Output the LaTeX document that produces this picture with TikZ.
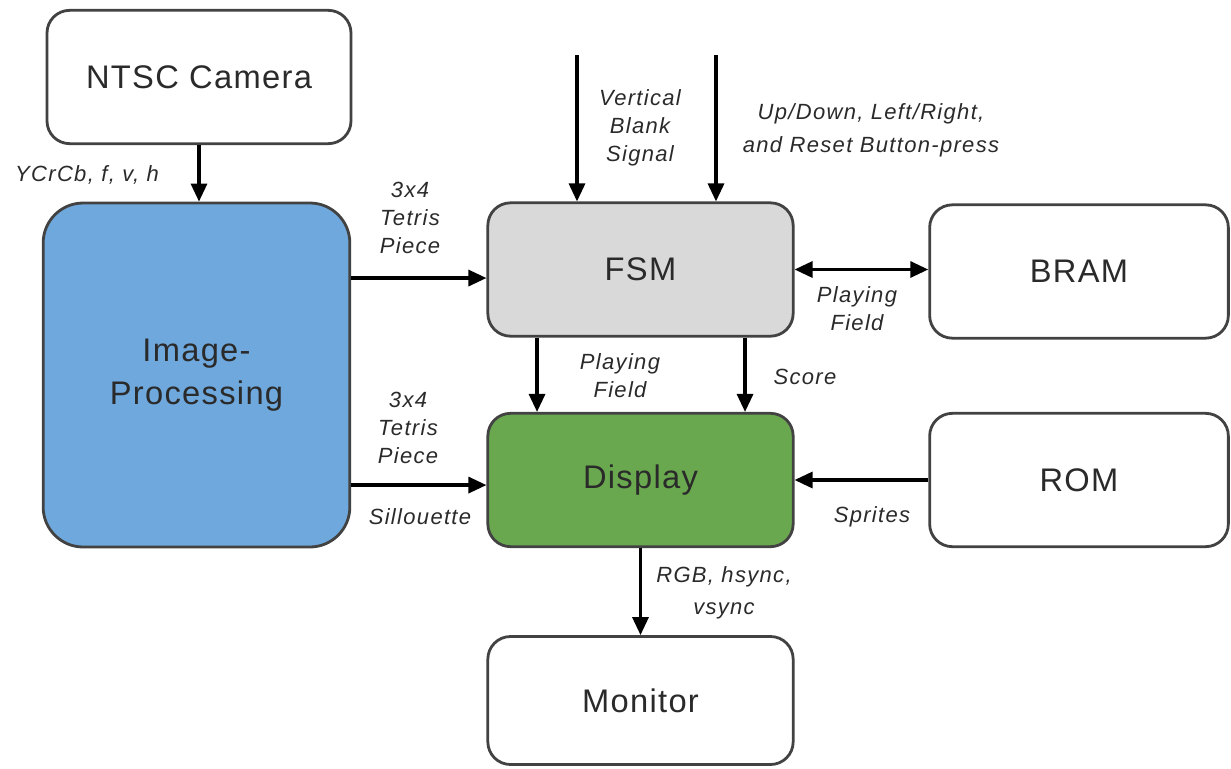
\documentclass[tikz,border=0pt]{standalone}
\usepackage{fontspec}
\setmainfont{Liberation Sans}[LetterSpace=4]
\newfontfamily\labelfont{Liberation Sans}[LetterSpace=6]
\usetikzlibrary{arrows.meta}
\definecolor{edge}{HTML}{424242}
\definecolor{ipblue}{HTML}{6FA8DC}
\definecolor{fsmgrey}{HTML}{D9D9D9}
\definecolor{dispgreen}{HTML}{6AA84F}
\definecolor{ink}{HTML}{2A2A2A}
\begin{document}
\begin{tikzpicture}[x=0.75pt,y=-0.75pt,
  block/.style={draw=edge, line width=2.1pt, rounded corners=17pt, fill=white,
    text=ink, font=\fontsize{24.5}{29}\selectfont, inner sep=0pt},
  arr/.style={draw=black, line width=2.4pt, -{Triangle[length=13.5pt,width=12pt]}},
  biarr/.style={draw=black, line width=2.4pt, {Triangle[length=13.5pt,width=12pt]}-{Triangle[length=13.5pt,width=12pt]}},
  lab/.style={text=ink, font=\labelfont\fontsize{16.5}{20.8}\selectfont\itshape, align=center, inner sep=0pt}]
\useasboundingbox (0,0) rectangle (1231,768);

% blocks
\node[block, minimum width=228pt, minimum height=100pt] (cam) at (199,77) {NTSC Camera};
\node[block, fill=ipblue, rounded corners=30pt, minimum width=230pt, minimum height=258pt, align=center] (ip) at (196.5,375) {Image-\\[3pt]Processing};
\node[block, fill=fsmgrey, minimum width=229pt, minimum height=100pt] (fsm) at (640.5,269.5) {FSM};
\node[block, minimum width=224pt, minimum height=100pt] (bram) at (1079,271.5) {BRAM};
\node[block, fill=dispgreen, minimum width=229pt, minimum height=100pt] (disp) at (640.5,480) {Display};
\node[block, minimum width=224pt, minimum height=100pt] (rom) at (1079,480) {ROM};
\node[block, minimum width=229pt, minimum height=96pt] (mon) at (640.5,700.5) {Monitor};

% external inputs of the FSM
\coordinate (vb) at (577,55);
\coordinate (btn) at (716,55);

% connectors
\draw[arr] (cam.south) -- (cam.south |- ip.north);
\draw[arr] ([yshift=-6.4pt]fsm.west -| ip.east) -- ([yshift=-6.4pt]fsm.west);
\draw[arr] ([yshift=-3.8pt]disp.west -| ip.east) -- ([yshift=-3.8pt]disp.west);
\draw[arr] (vb) -- (vb |- fsm.north);
\draw[arr] (btn) -- (btn |- fsm.north);
\draw[biarr] (fsm.east) -- (fsm.east -| bram.west);
\draw[arr] ([xshift=-77.6pt]fsm.south) -- ([xshift=-77.6pt]disp.north);
\draw[arr] ([xshift=78.4pt]fsm.south) -- ([xshift=78.4pt]disp.north);
\draw[arr] (rom.west) -- (disp.east);
\draw[arr] (disp.south) -- (mon.north);

% signal labels
\node[lab] (l1) at (87,175) {YCrCb, f, v, h};
\node[lab] (l2) at (410,218) {3x4\\Tetris\\Piece};
\node[lab] (l3) at (408,428) {3x4\\Tetris\\Piece};
\node[lab] (l4) at (420,517) {Sillouette};
\node[lab] (l5) at (640,128) {Vertical\\Blank\\Signal};
\node[lab] (l6) at (871,130) {Up/Down, Left/Right,\\[4pt]and Reset Button-press};
\node[lab] (l7) at (857,309) {Playing\\Field};
\node[lab] (l8) at (620,376) {Playing\\Field};
\node[lab] (l9) at (805,377) {Score};
\node[lab] (l10) at (872,517) {Sprites};
\node[lab] (l11) at (724,593) {RGB, hsync,\\[3pt]vsync};
\end{tikzpicture}
\end{document}
